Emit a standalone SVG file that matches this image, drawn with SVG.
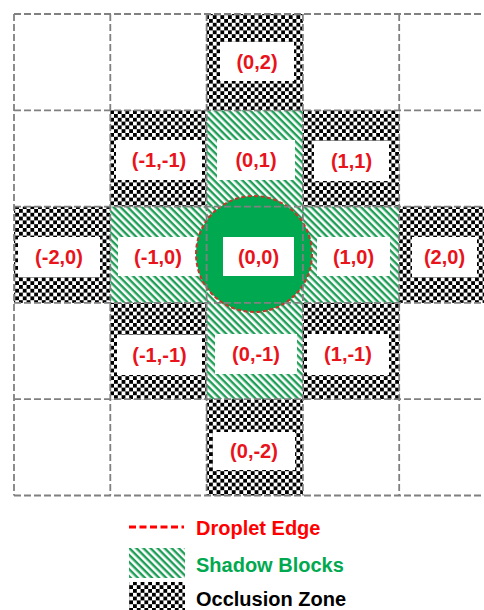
<svg xmlns="http://www.w3.org/2000/svg" width="484" height="610" viewBox="0 0 484 610">
<style>
.chk{fill:url(#checker)}
.hat{fill:url(#hatch)}
.box{fill:#ffffff}
.lbl{font-family:"Liberation Sans",Arial,sans-serif;font-weight:bold;font-size:20px;fill:#e8131b;text-anchor:middle}
.leg{font-family:"Liberation Sans",Arial,sans-serif;font-weight:bold;font-size:20px}
.grid line{stroke:#808080;stroke-width:1.8;stroke-dasharray:7 3;fill:none}
</style>
<defs>
<pattern id="checker" patternUnits="userSpaceOnUse" width="7.6" height="7.6">
<rect width="7.6" height="7.6" fill="#ffffff"/>
<rect x="0" y="0" width="3.8" height="3.8" fill="#000000"/>
<rect x="3.8" y="3.8" width="3.8" height="3.8" fill="#000000"/>
</pattern>
<pattern id="hatch" patternUnits="userSpaceOnUse" width="5" height="5" patternTransform="rotate(45)">
<rect width="5" height="5" fill="#ffffff"/>
<rect x="0" y="0" width="5" height="2.4" fill="#1e9e56"/>
</pattern>
</defs>
<rect width="484" height="610" fill="#ffffff"/>

<g id="cell-0-2"><rect class="chk" x="206.6" y="14" width="96.3" height="96.3"/><rect class="box" x="220" y="42" width="74" height="39"/><text class="lbl" x="257" y="69">(0,2)</text></g>

<g id="cell-m1-1"><rect class="chk" x="110.3" y="110.3" width="96.3" height="96.3"/><rect class="box" x="116" y="140" width="86" height="40"/><text class="lbl" x="159" y="167">(-1,-1)</text></g>
<g id="cell-0-1"><rect class="hat" x="206.6" y="110.3" width="96.3" height="96.3"/><rect class="box" x="217" y="140" width="78" height="40"/><text class="lbl" x="256" y="167">(0,1)</text></g>
<g id="cell-1-1"><rect class="chk" x="302.9" y="110.3" width="96.3" height="96.3"/><rect class="box" x="314" y="141" width="75" height="40"/><text class="lbl" x="351.5" y="168">(1,1)</text></g>

<g id="cell-m2-0"><rect class="chk" x="14" y="206.6" width="96.3" height="96.3"/><rect class="box" x="18" y="237" width="82" height="40"/><text class="lbl" x="59" y="264">(-2,0)</text></g>
<g id="cell-m1-0"><rect class="hat" x="110.3" y="206.6" width="96.3" height="96.3"/><rect class="box" x="118" y="237" width="80" height="39"/><text class="lbl" x="158" y="264">(-1,0)</text></g>
<g id="cell-1-0"><rect class="hat" x="302.9" y="206.6" width="96.3" height="96.3"/><rect class="box" x="317" y="237" width="73" height="39"/><text class="lbl" x="353.5" y="264">(1,0)</text></g>
<g id="cell-2-0"><rect class="chk" x="399.2" y="206.6" width="96.3" height="96.3"/><rect class="box" x="412" y="237" width="65" height="40"/><text class="lbl" x="444.5" y="264">(2,0)</text></g>

<g id="cell-m1-m1"><rect class="chk" x="110.3" y="302.9" width="96.3" height="96.3"/><rect class="box" x="117" y="335" width="85" height="40"/><text class="lbl" x="159.5" y="362">(-1,-1)</text></g>
<g id="cell-0-m1"><rect class="hat" x="206.6" y="302.9" width="96.3" height="96.3"/><rect class="box" x="215" y="334" width="82" height="40"/><text class="lbl" x="256" y="361">(0,-1)</text></g>
<g id="cell-1-m1"><rect class="chk" x="302.9" y="302.9" width="96.3" height="96.3"/><rect class="box" x="307" y="334" width="82" height="41"/><text class="lbl" x="348" y="361">(1,-1)</text></g>

<g id="cell-0-m2"><rect class="chk" x="206.6" y="399.2" width="96.3" height="96.3"/><rect class="box" x="213" y="432" width="82" height="38"/><text class="lbl" x="254" y="458">(0,-2)</text></g>

<g id="cell-0-0"><rect class="hat" x="206.6" y="206.6" width="96.3" height="96.3"/><circle id="droplet" cx="254" cy="254" r="58" fill="#00a94f" stroke="#c0392b" stroke-width="2" stroke-dasharray="4 2.5"/><rect class="box" x="223" y="237" width="71" height="39"/><text class="lbl" x="258.5" y="264">(0,0)</text></g>

<g id="grid" class="grid">
<line x1="14" y1="14" x2="484" y2="14"/>
<line x1="14" y1="110.3" x2="484" y2="110.3"/>
<line x1="14" y1="206.6" x2="484" y2="206.6"/>
<line x1="14" y1="302.9" x2="484" y2="302.9"/>
<line x1="14" y1="399.2" x2="484" y2="399.2"/>
<line x1="14" y1="495.5" x2="484" y2="495.5"/>
<line x1="14" y1="14" x2="14" y2="495.5"/>
<line x1="110.3" y1="14" x2="110.3" y2="495.5"/>
<line x1="206.6" y1="14" x2="206.6" y2="495.5"/>
<line x1="302.9" y1="14" x2="302.9" y2="495.5"/>
<line x1="399.2" y1="14" x2="399.2" y2="495.5"/>
</g>

<g id="connectors"></g>

<g id="legend">
<g id="legend-droplet"><line x1="129" y1="527" x2="184" y2="527" stroke="#ff0000" stroke-width="3" stroke-dasharray="7 3.5"/><text class="leg" x="196" y="535" fill="#ff0000">Droplet Edge</text></g>
<g id="legend-shadow"><rect class="hat" x="129" y="548" width="56" height="30"/><text class="leg" x="196" y="572" fill="#00a94f">Shadow Blocks</text></g>
<g id="legend-occlusion"><rect class="chk" x="129" y="582" width="56" height="28"/><text class="leg" x="196" y="606" fill="#000000">Occlusion Zone</text></g>
</g>
</svg>
